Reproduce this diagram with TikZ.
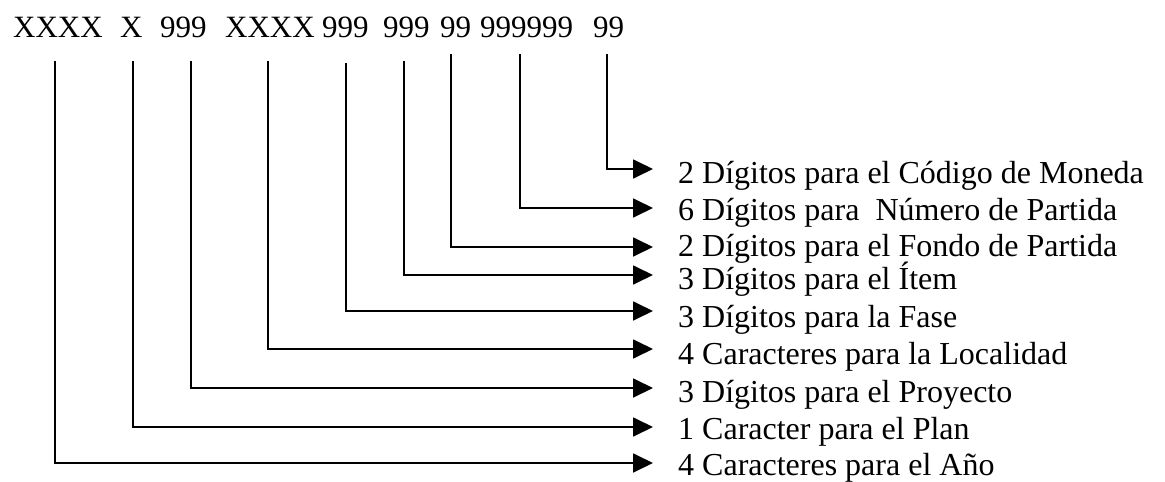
\documentclass[tikz,border=0pt]{standalone}
\usepackage{fontspec}
\setmainfont{Liberation Serif}
\usetikzlibrary{arrows.meta}
\begin{document}
\begin{tikzpicture}[x=1pt,y=-1pt,
  code/.style={anchor=base west, inner sep=0pt, font=\fontsize{31}{36}\selectfont},
  lab/.style={anchor=base west, inner sep=0pt, font=\fontsize{32}{38}\selectfont},
  conn/.style={line width=1.8pt, -{Triangle[length=20pt,width=19pt]}}]
\useasboundingbox (0,0) rectangle (1165,482);
% code groups
\node[code] (g1) at (13,37) {XXXX};
\node[code] (g2) at (120,37) {X};
\node[code] (g3) at (160,37) {999};
\node[code] (g4) at (225,37) {XXXX};
\node[code] (g5) at (322,37) {999};
\node[code] (g6) at (383,37) {999};
\node[code] (g7) at (440,37) {99};
\node[code] (g8) at (480,37) {999999};
\node[code] (g9) at (593,37) {99};
% line starts
\coordinate (s1) at (55,61);
\coordinate (s2) at (133,61);
\coordinate (s3) at (191,61);
\coordinate (s4) at (268,61);
\coordinate (s5) at (346,63);
\coordinate (s6) at (404,61);
\coordinate (s7) at (451,54);
\coordinate (s8) at (520,54);
\coordinate (s9) at (607,54);
% arrow tips
\coordinate (t9) at (653,169);
\coordinate (t8) at (653,208);
\coordinate (t7) at (653,247);
\coordinate (t6) at (653,275);
\coordinate (t5) at (653,311);
\coordinate (t4) at (653,349);
\coordinate (t3) at (653,388);
\coordinate (t2) at (653,427);
\coordinate (t1) at (653,463);
% labels
\node[lab] (l9) at (678,183) {2 Dígitos para el Código de Moneda};
\node[lab] (l8) at (678,220) {6 Dígitos para~ Número de Partida};
\node[lab] (l7) at (678,256) {2 Dígitos para el Fondo de Partida};
\node[lab] (l6) at (678,289) {3 Dígitos para el Ítem};
\node[lab] (l5) at (678,327) {3 Dígitos para la Fase};
\node[lab] (l4) at (678,364) {4 Caracteres para la Localidad};
\node[lab] (l3) at (678,402) {3 Dígitos para el Proyecto};
\node[lab] (l2) at (678,439) {1 Caracter para el Plan};
\node[lab] (l1) at (678,475) {4 Caracteres para el Año};
% connectors
\draw[conn] (s1) |- (t1);
\draw[conn] (s2) |- (t2);
\draw[conn] (s3) |- (t3);
\draw[conn] (s4) |- (t4);
\draw[conn] (s5) |- (t5);
\draw[conn] (s6) |- (t6);
\draw[conn] (s7) |- (t7);
\draw[conn] (s8) |- (t8);
\draw[conn] (s9) |- (t9);
\end{tikzpicture}
\end{document}
